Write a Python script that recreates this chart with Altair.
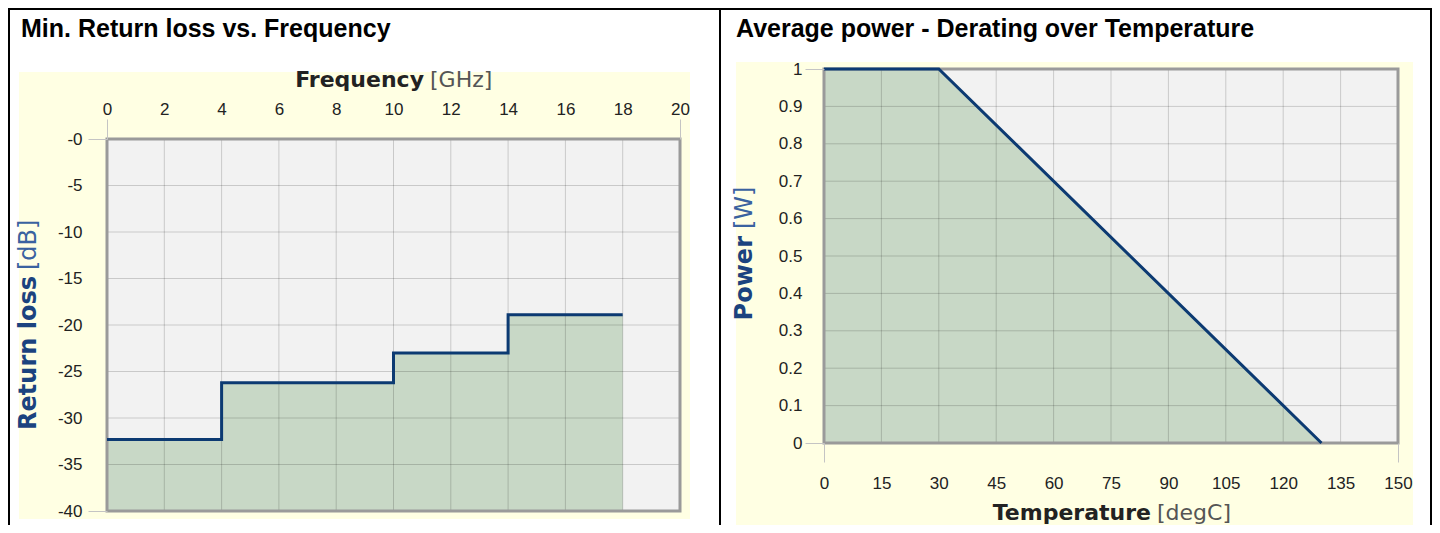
import altair as alt
import pandas as pd

# ---------------- data ----------------
FREQ_GHZ = [0, 4, 10, 14, 18]
RETURN_LOSS_DB = [-32.3, -26.2, -23.0, -18.9, -18.9]
FREQ_TICKS = [0, 2, 4, 6, 8, 10, 12, 14, 16, 18, 20]
RL_TICKS = [0, -5, -10, -15, -20, -25, -30, -35, -40]

TEMP_C = [0, 30, 130]
POWER_W = [1, 1, 0]
TEMP_TICKS = [0, 15, 30, 45, 60, 75, 90, 105, 120, 135, 150]
POWER_TICKS = [0, 0.1, 0.2, 0.3, 0.4, 0.5, 0.6, 0.7, 0.8, 0.9, 1]

TITLE_LEFT = "Min. Return loss vs. Frequency"
TITLE_RIGHT = "Average power - Derating over Temperature"
XT_LEFT = ["Frequency", "[GHz]"]
YT_LEFT = ["Return loss", "[dB]"]
XT_RIGHT = ["Temperature", "[degC]"]
YT_RIGHT = ["Power", "[W]"]

# ---------------- style ----------------
W1, H1 = 573, 372          # left plot area
W2 = 574                   # right plot area width
R_TOP, R_BOT = -70, 304    # right plot top / bottom relative to shared origin
YELLOW = "#ffffe3"
PLOT_BG = "#f2f2f2"
GREEN = "#c8d8c6"
NAVY = "#0c3a72"
FRAME = "#9a9a9a"
BLUE_B = "#1b437f"
BLUE_N = "#3a62a0"
LABEL_FONT = "Liberation Sans"
TITLE_FONT = "Liberation Sans"
AX_FONT = "DejaVu Sans"

one = alt.Data(values=[{}])


def rect(x, x2, y, y2, color):
    return alt.Chart(one).mark_rect(color=color).encode(
        x=alt.value(x), x2=alt.value(x2), y=alt.value(y), y2=alt.value(y2))


def frame(x, x2, y, y2):
    return alt.Chart(one).mark_rect(fillOpacity=0, stroke=FRAME, strokeWidth=3).encode(
        x=alt.value(x), x2=alt.value(x2), y=alt.value(y), y2=alt.value(y2))


def txt(s, x, y, size, weight="normal", color="#000", font=AX_FONT,
        align="left", angle=0, baseline="alphabetic"):
    return alt.Chart(one).mark_text(
        text=s, font=font, fontSize=size, fontWeight=weight, color=color,
        align=align, baseline=baseline, angle=angle).encode(
        x=alt.value(x), y=alt.value(y))


def tick_color(lo, hi):
    return {"condition": {"test": f"datum.value == {lo} || datum.value == {hi}",
                          "value": "#c4c4c4"},
            "value": "transparent"}


AX = dict(grid=False, domain=False, ticks=True, tickWidth=1,
          labelFont=LABEL_FONT, labelFontSize=17, labelColor="#222",
          title=None, zindex=1, labelOverlap=False, labelFlush=False)

# ---------------- left panel ----------------
XL = alt.X("f:Q", scale=alt.Scale(domain=[0, 20], nice=False),
           axis=alt.Axis(orient="top", values=FREQ_TICKS, tickSize=20,
                         tickColor=tick_color(0, 20), labelPadding=1, **AX))
YL = alt.Y("rl:Q", scale=alt.Scale(domain=[-40, 0], nice=False),
           axis=alt.Axis(orient="left", values=RL_TICKS, tickSize=19,
                         tickColor=tick_color(0, -40), labelPadding=6,
                         labelExpr="'-' + abs(datum.value)", **AX))

df_rl = pd.DataFrame({"f": FREQ_GHZ, "rl": RETURN_LOSS_DB})

left = alt.layer(
    rect(-88, 583, -67, 380, YELLOW),
    rect(0, W1, 0, H1, PLOT_BG),
    alt.Chart(df_rl).mark_area(interpolate="step-after", color=GREEN).encode(
        x=XL, y=YL, y2=alt.datum(-40)),
    alt.Chart(pd.DataFrame({"f": FREQ_TICKS})).mark_rule(
        color="#000", opacity=0.17, strokeWidth=1).encode(
        x=XL, y=alt.value(0), y2=alt.value(H1)),
    alt.Chart(pd.DataFrame({"rl": RL_TICKS})).mark_rule(
        color="#000", opacity=0.17, strokeWidth=1).encode(
        y=YL, x=alt.value(0), x2=alt.value(W1)),
    frame(0, W1, 0, H1),
    alt.Chart(df_rl).mark_line(interpolate="step-after", color=NAVY,
                               strokeWidth=3).encode(x=XL, y=YL),
    txt(TITLE_LEFT, -86, -102, 25, "bold", "#000", TITLE_FONT),
    txt(XT_LEFT[0], 317, -52, 22, "bold", "#222", align="right"),
    txt(XT_LEFT[1], 323, -52, 22, "normal", "#555"),
    txt(YT_LEFT[0], -78, 137, 24, "bold", BLUE_B, align="right", angle=270,
        baseline="middle"),
    txt(YT_LEFT[1], -78, 131, 24, "normal", BLUE_N, align="left", angle=270,
        baseline="middle"),
    rect(-99, 614, -131, -129, "#000"),
    rect(-99, -97, -131, 386, "#000"),
    rect(612, 614, -131, 386, "#000"),
).properties(width=W1, height=H1)

# ---------------- right panel ----------------
XR = alt.X("t:Q", scale=alt.Scale(domain=[0, 150], nice=False),
           axis=alt.Axis(orient="bottom", values=TEMP_TICKS, tickSize=19,
                         tickColor=tick_color(0, 150), labelPadding=13, **AX))
YR = alt.Y("p:Q", scale=alt.Scale(domain=[0, 1], nice=False, range=[R_BOT, R_TOP]),
           axis=alt.Axis(orient="left", values=POWER_TICKS, tickSize=19,
                         tickColor=tick_color(0, 1), labelPadding=3,
                         format=".1~f", **AX))

df_p = pd.DataFrame({"t": TEMP_C, "p": POWER_W})

right = alt.layer(
    rect(-88, 589, -77, 386, YELLOW),
    rect(0, W2, R_TOP, R_BOT, PLOT_BG),
    alt.Chart(df_p).mark_area(color=GREEN).encode(x=XR, y=YR),
    alt.Chart(pd.DataFrame({"t": TEMP_TICKS})).mark_rule(
        color="#000", opacity=0.17, strokeWidth=1).encode(
        x=XR, y=alt.value(R_TOP), y2=alt.value(R_BOT)),
    alt.Chart(pd.DataFrame({"p": POWER_TICKS})).mark_rule(
        color="#000", opacity=0.17, strokeWidth=1).encode(
        y=YR, x=alt.value(0), x2=alt.value(W2)),
    frame(0, W2, R_TOP, R_BOT),
    alt.Chart(df_p).mark_line(color=NAVY, strokeWidth=3).encode(x=XR, y=YR),
    txt(TITLE_RIGHT, -88, -102, 25, "bold", "#000", TITLE_FONT),
    txt(XT_RIGHT[0], 327, 381, 22, "bold", "#222", align="right"),
    txt(XT_RIGHT[1], 333, 381, 22, "normal", "#555"),
    txt(YT_RIGHT[0], -79, 97, 24, "bold", BLUE_B, align="right", angle=270,
        baseline="middle"),
    txt(YT_RIGHT[1], -79, 90, 24, "normal", BLUE_N, align="left", angle=270,
        baseline="middle"),
    rect(-103, 608, -131, -129, "#000"),
    rect(606, 608, -131, 386, "#000"),
).properties(width=W2, height=R_BOT)

chart = alt.hconcat(left, right, spacing=0).properties(
    padding=0, background="white"
).configure_view(strokeWidth=0)

chart.save("out.html", embed_options={"renderer": "svg", "actions": False})
